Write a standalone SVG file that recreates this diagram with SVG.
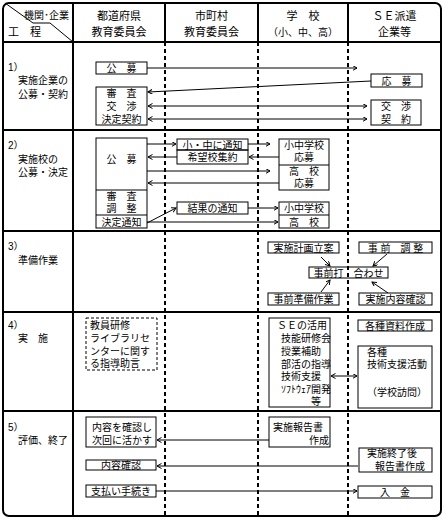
<svg xmlns="http://www.w3.org/2000/svg" width="448" height="523" viewBox="0 0 448 523">
<defs>
<marker id="ah" markerWidth="6" markerHeight="6" refX="4.5" refY="2.5" orient="auto-start-reverse" markerUnits="userSpaceOnUse">
<path d="M0,0 L4.5,2.5 L0,5" fill="none" stroke="#000" stroke-width="1"/>
</marker>
</defs>
<style>
text{font-family:"Liberation Sans","Noto Sans CJK JP",sans-serif;font-size:10px;fill:#000}
.m{text-anchor:middle}
.h{font-size:11px}
.b{fill:none;stroke:#000;stroke-width:1}
.db{fill:none;stroke:#000;stroke-width:1;stroke-dasharray:3 2}
.grid{fill:none;stroke:#000;stroke-width:2}
.dash{fill:none;stroke:#000;stroke-width:2;stroke-dasharray:4 3}
.c{fill:none;stroke:#000;stroke-width:1}
.a{marker-end:url(#ah)}
.aa{marker-end:url(#ah);marker-start:url(#ah)}
</style>
<rect width="448" height="523" fill="#fff"/>
<g id="frame">
<rect class="grid" x="3" y="3" width="438" height="513" rx="6"/>
<line class="grid" x1="73" y1="3" x2="73" y2="516"/>
<line class="grid" x1="165" y1="3" x2="165" y2="42"/>
<line class="grid" x1="258" y1="3" x2="258" y2="42"/>
<line class="grid" x1="348" y1="3" x2="348" y2="42"/>
<line class="dash" x1="165" y1="42" x2="165" y2="516"/>
<line class="dash" x1="258" y1="42" x2="258" y2="516"/>
<line class="dash" x1="348" y1="42" x2="348" y2="516"/>
<line class="grid" x1="3" y1="42" x2="441" y2="42"/>
<line class="grid" x1="3" y1="130" x2="441" y2="130"/>
<line class="grid" x1="3" y1="231" x2="441" y2="231"/>
<line class="grid" x1="3" y1="312" x2="441" y2="312"/>
<line class="grid" x1="3" y1="411" x2="441" y2="411"/>
<polyline class="c" points="5,3 33,23 50,23 73,42" stroke-width="1.5"/>
</g>
<g id="header">
<text x="24" y="19">機関･企業</text>
<text class="h" x="8" y="36">工　程</text>
<text class="m h" x="119" y="20">都道府県</text>
<text class="m h" x="119" y="36">教育委員会</text>
<text class="m h" x="211.5" y="20">市町村</text>
<text class="m h" x="211.5" y="36">教育委員会</text>
<text class="m h" x="303" y="20">学　校</text>
<text class="m" x="303" y="36">（小、中、高）</text>
<text class="m h" x="394.5" y="20">ＳＥ派遣</text>
<text class="m h" x="394.5" y="36">企業等</text>
</g>
<g id="row-labels">
<text x="8" y="71">1）</text>
<text x="18" y="84">実施企業の</text>
<text x="18" y="98">公募・契約</text>
<text x="8" y="149">2）</text>
<text x="18" y="163">実施校の</text>
<text x="18" y="176">公募・決定</text>
<text x="8" y="250">3）</text>
<text x="18" y="264">準備作業</text>
<text x="8" y="329">4）</text>
<text x="18" y="342">実　施</text>
<text x="8" y="431">5）</text>
<text x="18" y="444">評価、終了</text>
</g>
<g id="connectors">
<line class="c a" x1="147" y1="68" x2="357" y2="68"/>
<line class="c a" x1="371" y1="81" x2="148" y2="92"/>
<line class="c aa" x1="148" y1="106" x2="367" y2="106"/>
<line class="c aa" x1="148" y1="119" x2="367" y2="119"/>
<line class="c a" x1="147" y1="144" x2="176" y2="144"/>
<line class="c a" x1="248" y1="144" x2="270" y2="144"/>
<line class="c a" x1="279" y1="157" x2="249" y2="157"/>
<line class="c a" x1="177" y1="157" x2="148" y2="157"/>
<line class="c a" x1="147" y1="171" x2="270" y2="171"/>
<line class="c a" x1="279" y1="183" x2="148" y2="183"/>
<line class="c a" x1="147" y1="223" x2="176" y2="208"/>
<line class="c a" x1="248" y1="208" x2="278" y2="208"/>
<line class="c a" x1="147" y1="222" x2="278" y2="222"/>
<line class="c a" x1="321" y1="257" x2="330" y2="266"/>
<line class="c a" x1="387" y1="254" x2="373" y2="266"/>
<line class="c a" x1="321" y1="292" x2="330" y2="280"/>
<line class="c a" x1="388" y1="293" x2="372" y2="282"/>
<line class="c aa" x1="331" y1="376" x2="357" y2="376"/>
<line class="c a" x1="269" y1="440" x2="157" y2="440"/>
<line class="c a" x1="358" y1="466" x2="157" y2="466"/>
<line class="c a" x1="156" y1="491" x2="357" y2="491"/>
</g>
<g id="n-r1-koubo"><rect class="b" x="96" y="62" width="51" height="12"/><text class="m" x="121.5" y="71.5">公　募</text></g>
<g id="n-r1-oubo"><rect class="b" x="371" y="74" width="51" height="13"/><text class="m" x="396.5" y="84.5">応　募</text></g>
<g id="n-r1-shinsa"><rect class="b" x="96" y="87" width="51" height="38"/><text class="m" x="121.5" y="96.5">審　査</text><text class="m" x="121.5" y="109.5">交　渉</text><text class="m" x="121.5" y="122.5">決定契約</text></g>
<g id="n-r1-koushou"><rect class="b" x="371" y="100" width="50" height="25"/><text class="m" x="396" y="109.5">交　渉</text><text class="m" x="396" y="122.5">契　約</text></g>
<g id="n-r2-koubo"><rect class="b" x="96" y="138" width="51" height="90"/><line class="b" x1="96" y1="190" x2="147" y2="190"/><line class="b" x1="96" y1="215" x2="147" y2="215"/><text class="m" x="121.5" y="162.5">公　募</text><text class="m" x="121.5" y="199.5">審　査</text><text class="m" x="121.5" y="211.5">調　整</text><text class="m" x="121.5" y="225.5">決定通知</text></g>
<g id="n-r2-tsuchi"><rect class="b" x="177" y="139" width="71" height="11"/><text class="m" x="212.5" y="148.5">小・中に通知</text></g>
<g id="n-r2-shuyaku"><rect class="b" x="177" y="150" width="71" height="14"/><text class="m" x="212.5" y="160.5">希望校集約</text></g>
<g id="n-r2-school"><rect class="b" x="279" y="139" width="50" height="51"/><line class="b" x1="279" y1="165" x2="329" y2="165"/><text class="m" x="304" y="148.5">小中学校</text><text class="m" x="304" y="160.5">応募</text><text class="m" x="304" y="174.5">高　校</text><text class="m" x="304" y="186.5">応募</text></g>
<g id="n-r2-kekka"><rect class="b" x="177" y="202" width="71" height="12"/><text class="m" x="212.5" y="211.5">結果の通知</text></g>
<g id="n-r2-school2"><rect class="b" x="279" y="202" width="50" height="26"/><line class="b" x1="279" y1="215" x2="329" y2="215"/><text class="m" x="304" y="211.5">小中学校</text><text class="m" x="304" y="225.5">高　校</text></g>
<g id="n-r3-keikaku"><rect class="b" x="268" y="242" width="71" height="11"/><text class="m" x="303.5" y="251.5">実施計画立案</text></g>
<g id="n-r3-chousei"><rect class="b" x="359" y="242" width="73" height="11"/><text class="m" x="395.5" y="251.5">事 前　調 整</text></g>
<g id="n-r3-uchiawase"><rect class="b" x="309" y="267" width="79" height="11"/><text class="m" x="348.5" y="276.5">事前打　合わせ</text></g>
<g id="n-r3-junbi"><rect class="b" x="268" y="293" width="71" height="12"/><text class="m" x="303.5" y="302.5">事前準備作業</text></g>
<g id="n-r3-kakunin"><rect class="b" x="359" y="293" width="73" height="12"/><text class="m" x="395.5" y="302.5">実施内容確認</text></g>
<g id="n-r4-library"><rect class="db" x="86" y="318" width="71" height="52"/><text x="90" y="328.5">教員研修</text><text x="90" y="341.5">ライブラリセ</text><text x="90" y="354.5">ンターに関す</text><text x="90" y="366.5">る指導助言</text></g>
<g id="n-r4-se"><rect class="b" x="269" y="318" width="61" height="89"/><text x="277" y="328.5">ＳＥの活用</text><text x="281" y="341.5">技能研修会</text><text x="281" y="354.5">授業補助</text><text x="281" y="367.5">部活の指導</text><text x="281" y="379.5">技術支援</text><text x="281" y="392.5">ｿﾌﾄｳｪｱ開発</text><text x="311" y="404.5">等</text></g>
<g id="n-r4-shiryou"><rect class="b" x="358" y="320" width="74" height="11"/><text class="m" x="395" y="329.5">各種資料作成</text></g>
<g id="n-r4-shien"><rect class="b" x="358" y="346" width="74" height="62"/><text x="367" y="355.5">各種</text><text x="367" y="367.5">技術支援活動</text><text class="m" x="397" y="395.5">（学校訪問）</text></g>
<g id="n-r5-jikai"><rect class="b" x="86" y="417" width="70" height="30"/><text x="92" y="430.5">内容を確認し</text><text x="92" y="443.5">次回に活かす</text></g>
<g id="n-r5-houkoku"><rect class="b" x="269" y="417" width="61" height="30"/><text x="273" y="430.5">実施報告書</text><text x="309" y="443.5">作成</text></g>
<g id="n-r5-naiyou"><rect class="b" x="86" y="460" width="70" height="10"/><text class="m" x="121" y="468.5">内容確認</text></g>
<g id="n-r5-shuryou"><rect class="b" x="359" y="448" width="73" height="24"/><text x="367" y="456.5">実施終了後</text><text x="375" y="470">報告書作成</text></g>
<g id="n-r5-shiharai"><rect class="b" x="86" y="485" width="70" height="12"/><text class="m" x="121" y="494.5">支払い手続き</text></g>
<g id="n-r5-nyukin"><rect class="b" x="358" y="486" width="74" height="12"/><text class="m" x="395" y="495.5">入　金</text></g>
</svg>
